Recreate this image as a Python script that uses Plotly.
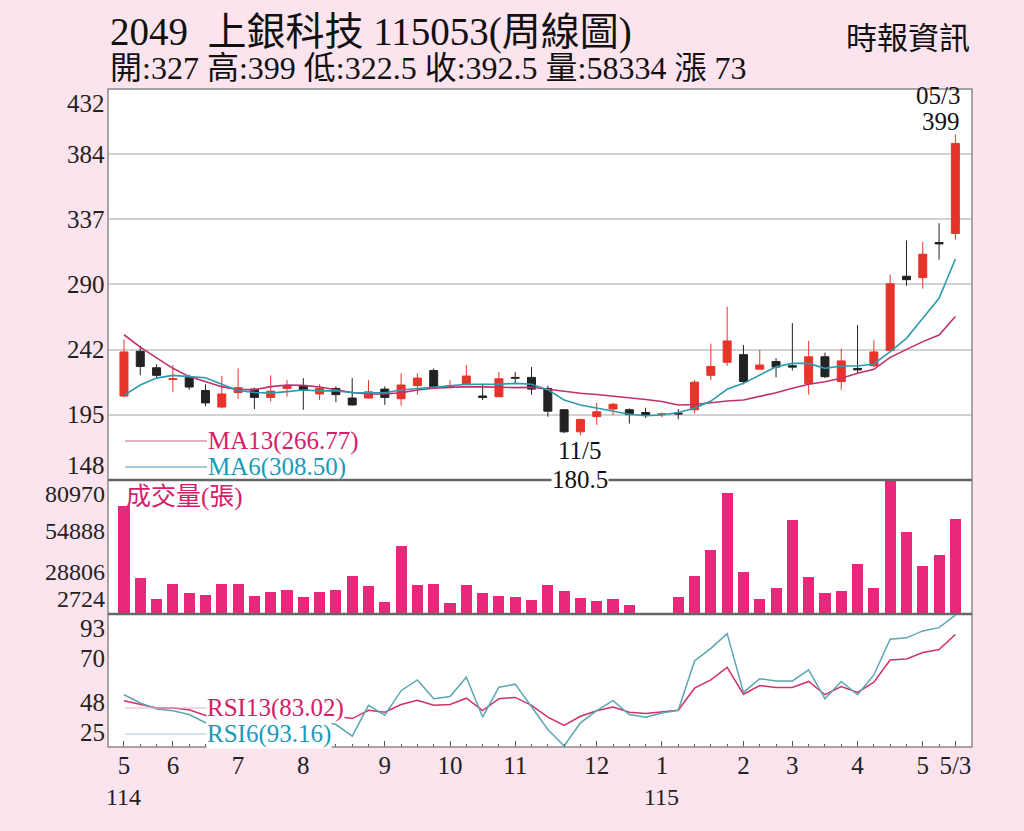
import plotly.graph_objects as go

# weekly candles, oldest first (index 0 .. 51)
weeks = list(range(52))

opens = [209, 241.5, 229.5, 221, 222.5, 213, 201, 211.5, 214, 208,
         214.5, 216.5, 210.5, 214.5, 207.5, 207.5, 214, 207, 216.5, 227.5,
         216, 217.5, 209, 208.5, 222.5, 222.5, 214.5, 199, 183, 194,
         199.5, 199, 197, 195.5, 196.5, 199, 224, 233.5, 239, 228.5,
         234, 231, 218, 237.5, 219.5, 229, 231, 242, 296, 295,
         320.5, 327]
highs = [250, 245.5, 232, 231.5, 224.5, 217.5, 223.5, 229, 215, 224,
         220.5, 222, 217.5, 216, 222, 220.5, 216, 225.5, 225.5, 229,
         220.5, 231.5, 218, 226.5, 226.5, 230, 216.5, 199.5, 192.5, 204,
         204, 200, 200.5, 197, 199.5, 220.5, 247, 274, 246, 242.5,
         236.5, 262, 249, 240.5, 243.5, 260.5, 249.5, 297, 322, 321,
         334.5, 399]
lows = [208, 224, 222, 212, 213.5, 201.5, 200, 207, 199.5, 205,
        208.5, 199, 206, 204.5, 202, 207, 202.5, 202, 210, 214.5,
        214.5, 217, 206, 208, 218, 210, 194, 182, 180.5, 188,
        195, 189, 193, 193.5, 192, 196.5, 220.5, 231, 217.5, 228.5,
        222.5, 227.5, 210, 222, 213.5, 225.5, 230, 241, 289, 287,
        308, 322.5]
closes = [241, 230.5, 224, 221.5, 215.5, 204, 210.5, 215, 208, 212.5,
          216.5, 213, 214.5, 210, 202.5, 212, 208, 217, 222, 215.5,
          216.5, 223.5, 208, 221.5, 222, 214, 198, 183, 192, 197.5,
          203, 195.5, 195.5, 196, 196, 219, 230.5, 249, 219.5, 231.5,
          230, 230, 237.5, 223, 234.5, 228, 241, 290.5, 293.5, 312,
          319.5, 392.5]

ma13 = [253.5, 244.5, 236.7, 229.1, 223.1, 219.2, 215.8, 213.6, 213.6, 215.8,
        217.0, 216.7, 215.5, 213.5, 211.5, 210.5, 210.5, 211.4, 213.4, 214.6,
        215.1, 215.8, 215.6, 215.3, 215.1, 215.3, 213.9, 212.2, 211.0, 210.1,
        209.0, 207.5, 206.5, 205.0, 202.5, 202.8, 204.2, 205.4, 206.1, 208.5,
        211.4, 214.6, 217.5, 219.4, 221.9, 225.5, 228.4, 237.1, 243.0, 248.5,
        253.3, 266.77]
ma6 = [209.5, 217.0, 222.0, 224.0, 223.1, 222.3, 217.6, 213.0, 211.6, 211.1,
       212.2, 213.4, 212.7, 212.8, 211.4, 211.2, 211.4, 213.4, 214.6, 215.8,
       216.5, 217.5, 217.5, 217.5, 218.2, 217.5, 213.6, 206.1, 202.5, 200.1,
       197.6, 195.7, 194.7, 195.2, 197.0, 200.1, 205.3, 213.9, 218.2, 224.3,
       230.3, 232.7, 232.7, 229.1, 230.8, 230.8, 232.3, 241.2, 250.9, 265.4,
       280.0, 308.5]

volume = [65900, 23530, 11220, 20010, 14740, 13740, 20190, 19840, 13160, 15500,
          16320, 12400, 15150, 16320, 24530, 19020, 9290, 42460, 19600, 20190,
          8880, 19600, 14740, 12800, 12400, 10460, 19250, 16090, 11810, 9870,
          11220, 7880, 2724, None, 12220, 24530, 39760, 73930, 26870, 11400,
          17850, 58000, 24290, 14910, 15730, 31560, 17670, 80970, 50900, 30560,
          36830, 58334]

rsi13 = [48.6, 46.6, 44.8, 44.8, 43.9, 40.9, 41.5, 42.0, 41.0, 41.5,
         42.0, 41.5, 41.0, 40.5, 39.3, 43.6, 42.6, 46.6, 48.8, 46.2,
         46.6, 49.9, 43.4, 49.6, 50.3, 46.2, 40.0, 35.7, 40.5, 43.4,
         45.3, 42.6, 41.9, 42.7, 43.6, 55.1, 59.4, 65.9, 52.0, 56.5,
         55.5, 55.5, 58.6, 51.7, 56.0, 52.9, 58.2, 69.8, 70.3, 73.7,
         75.2, 83.02]
rsi6 = [51.7, 47.4, 44.3, 43.4, 41.4, 37.1, 38.0, 40.0, 36.0, 38.0,
        39.0, 36.0, 38.0, 36.2, 30.2, 46.2, 41.0, 53.8, 59.4, 49.6,
        50.8, 60.8, 40.1, 55.6, 57.2, 45.2, 33.6, 25.0, 37.1, 43.4,
        48.6, 41.4, 40.0, 42.2, 43.6, 69.3, 75.8, 83.5, 52.9, 60.0,
        58.9, 58.9, 64.6, 49.6, 58.6, 51.7, 62.0, 80.6, 81.3, 84.9,
        86.6, 93.16]

month_idx = [0, 3, 7, 11, 16, 20, 24, 29, 33, 38, 41, 45, 49, 51]
month_txt = ["5", "6", "7", "8", "9", "10", "11", "12", "1",
             "2", "3", "4", "5", "5/3"]
year_idx = [0, 33]
year_txt = ["114", "115"]

price_ticks = [148, 195.33, 242.67, 290, 337.33, 384.67, 432]
price_txt = ["148", "195", "242", "290", "337", "384", "432"]
vol_ticks = [2724, 28806, 54888, 80970]
rsi_ticks = [25, 47.72, 70.44, 93.16]
rsi_txt = ["25", "48", "70", "93"]

FONT = "Liberation Serif, Noto Sans CJK TC, serif"
RED = "#e8332b"
PINK = "#c0306c"
TEAL = "#2a9bb0"

# plot area in pixels: x 108..972, y 89..747
def px_x(x):
    return (x - 108) / 864

def px_y(y):
    return (747 - y) / 658

fig = go.Figure()

fig.add_trace(go.Candlestick(
    x=weeks, open=opens, high=highs, low=lows, close=closes,
    increasing=dict(line=dict(color=RED, width=1), fillcolor=RED),
    decreasing=dict(line=dict(color="#222222", width=1), fillcolor="#222222"),
    whiskerwidth=0, hoverinfo="skip", xaxis="x", yaxis="y"))
fig.add_trace(go.Scatter(x=weeks, y=ma13, mode="lines",
                         line=dict(color=PINK, width=1.6), yaxis="y"))
fig.add_trace(go.Scatter(x=weeks, y=ma6, mode="lines",
                         line=dict(color=TEAL, width=1.6), yaxis="y"))

fig.add_trace(go.Bar(x=weeks, y=volume, width=0.68, marker_color="#e8287a",
                     marker_line_width=0, yaxis="y2"))

fig.add_trace(go.Scatter(x=weeks, y=rsi13, mode="lines",
                         line=dict(color="#d2306a", width=1.5), yaxis="y3"))
fig.add_trace(go.Scatter(x=weeks, y=rsi6, mode="lines",
                         line=dict(color="#5aa6b2", width=1.5), yaxis="y3"))

ann = []

def ylab(text, yref, y, anchor="middle", shift=0, size=25):
    ann.append(dict(text=text, xref="paper", x=0, xanchor="right", xshift=-2,
                    yref=yref, y=y, yanchor=anchor, yshift=shift, showarrow=False,
                    borderpad=0,
                    font=dict(family=FONT, size=size, color="#222")))

# price labels
for i, (v, t) in enumerate(zip(price_ticks, price_txt)):
    anchor = "top" if i == len(price_ticks) - 1 else ("bottom" if i == 0 else "middle")
    ylab(t, "y", v, anchor)
# volume labels
ylab(str(vol_ticks[3]), "y2", 81300, "top", 0, 24)
ylab(str(vol_ticks[2]), "y2", vol_ticks[2], "middle", -6, 24)
ylab(str(vol_ticks[1]), "y2", vol_ticks[1], "middle", -3, 24)
ylab(str(vol_ticks[0]), "y2", 2300, "bottom", 1, 24)
# rsi labels
ylab(rsi_txt[3], "y3", 93.7, "top")
ylab(rsi_txt[2], "y3", rsi_ticks[2], "middle")
ylab(rsi_txt[1], "y3", rsi_ticks[1], "middle")
ylab(rsi_txt[0], "y3", 24.5, "bottom")

def txt(text, x, y, color="#111", size=25, xanchor="left", bg=None, xref="paper",
        yref="paper", pad=1):
    d = dict(text=text, xref=xref, x=x, yref=yref, y=y, xanchor=xanchor, yanchor="middle",
             showarrow=False, borderpad=pad, font=dict(family=FONT, size=size, color=color))
    if bg:
        d.update(bgcolor=bg, borderpad=0)
    ann.append(d)

# header
txt("2049  上銀科技 115053(周線圖)", px_x(108), px_y(32), size=39)
txt("開:327 高:399 低:322.5 收:392.5 量:58334 漲 73", px_x(108), px_y(68), size=32)
txt("時報資訊", px_x(972), px_y(38), size=31, xanchor="right")

# legends
txt("MA13(266.77)", px_x(206), px_y(441), color="#d42068")
txt("MA6(308.50)", px_x(206), px_y(467), color="#1a9ab8")
txt("成交量(張)", px_x(124), px_y(497), color="#d42068")
txt("RSI13(83.02)", px_x(206), px_y(708), color="#d42068", bg="white")
txt("RSI6(93.16)", px_x(206), px_y(734), color="#1a9ab8", bg="white")

# high / low marks
txt("05/3", 51.4, 427.5, xanchor="right", xref="x", yref="y")
txt("399", 51.4, 408.5, xanchor="right", xref="x", yref="y")
txt("11/5", 28, 169.5, xanchor="center", xref="x", yref="y")
txt("180.5", 28, 148.6, xanchor="center", bg="white", xref="x", yref="y")

# year under the month ticks
for xi, yt in zip(year_idx, year_txt):
    txt(yt, xi, px_y(797), color="#222", size=24, xanchor="center", xref="x", pad=0)

shapes = [
    dict(type="rect", xref="paper", yref="paper", x0=0, x1=1, y0=0, y1=1,
         line=dict(color="#8a8a8a", width=1.5)),
    dict(type="line", xref="paper", yref="paper", x0=0, x1=1, y0=0.4058, y1=0.4058,
         line=dict(color="#666", width=2.5)),
    dict(type="line", xref="paper", yref="paper", x0=0, x1=1, y0=0.2021, y1=0.2021,
         line=dict(color="#666", width=2.5)),
    # legend sample lines
    dict(type="line", xref="paper", yref="paper", x0=px_x(125), x1=px_x(207),
         y0=px_y(441), y1=px_y(441), line=dict(color="#c86090", width=1)),
    dict(type="line", xref="paper", yref="paper", x0=px_x(125), x1=px_x(207),
         y0=px_y(467), y1=px_y(467), line=dict(color="#4a9ab0", width=1)),
    dict(type="line", xref="paper", yref="paper", x0=px_x(125), x1=px_x(207),
         y0=px_y(708), y1=px_y(708), line=dict(color="#eab0c4", width=1)),
    dict(type="line", xref="paper", yref="paper", x0=px_x(125), x1=px_x(207),
         y0=px_y(734), y1=px_y(734), line=dict(color="#a8cdd4", width=1)),
]

fig.update_layout(
    width=1024, height=831,
    margin=dict(l=108, r=52, t=89, b=84),
    paper_bgcolor="#fce4ee", plot_bgcolor="white",
    showlegend=False, bargap=0,
    annotations=ann, shapes=shapes,
    xaxis=dict(range=[-0.98, 52.02], anchor="y3", showgrid=False, zeroline=False,
               rangeslider=dict(visible=False),
               tickvals=month_idx, ticktext=month_txt, ticks="inside", ticklen=6,
               tickcolor="#555", ticklabelstandoff=1,
               minor=dict(tickvals=weeks, ticks="inside", ticklen=3, tickcolor="#555"),
               tickfont=dict(family=FONT, size=25, color="#222")),
    yaxis=dict(domain=[0.4058, 1], range=[148, 432], tickvals=price_ticks[1:-1],
               showticklabels=False, gridcolor="#d2d2d2", gridwidth=1.5,
               zeroline=False, fixedrange=True),
    yaxis2=dict(domain=[0.2021, 0.4058], range=[2300, 81300], showgrid=False,
                showticklabels=False, zeroline=False),
    yaxis3=dict(domain=[0, 0.2021], range=[24.5, 93.7], showgrid=False,
                showticklabels=False, zeroline=False),
)

# page margin off so the figure sits at the window's top-left corner
fig.write_html("out.html", config={"displayModeBar": False},
               post_script="document.body.style.margin='0';"
                           "document.body.style.background='#fce4ee';")
